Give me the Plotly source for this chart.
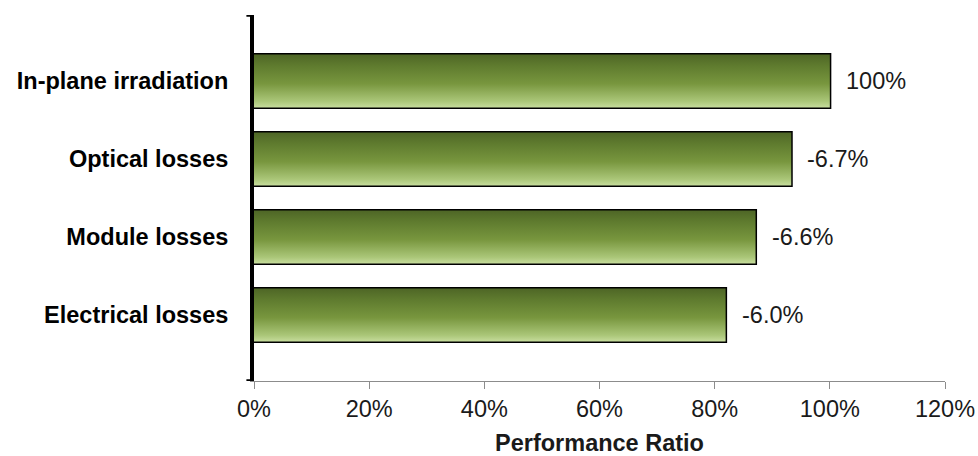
import plotly.graph_objects as go

# Performance ratio loss chain
categories = ["In-plane irradiation", "Optical losses", "Module losses", "Electrical losses"]
pr_values = [100.0, 93.3, 87.1, 81.9]
value_labels = ["100%", "-6.7%", "-6.6%", "-6.0%"]
x_ticks = [0, 20, 40, 60, 80, 100, 120]

FONT = "Arial, Liberation Sans, sans-serif"
FS = 23.5
BAR_W = 0.68
# vertical shading of each bar: dark olive on top, pale green at the bottom
GRAD = [[0.0, "rgb(198,220,156)"], [0.12, "rgb(170,198,120)"], [0.45, "rgb(120,150,62)"],
        [0.8, "rgb(94,122,46)"], [1.0, "rgb(78,102,38)"]]

n = len(categories)
ypos = [n - 1 - i for i in range(n)]  # first category on top

fig = go.Figure()

for y, v in zip(ypos, pr_values):
    y0, y1 = y - BAR_W / 2, y + BAR_W / 2
    fig.add_trace(go.Scatter(
        x=[0, v, v, 0, 0], y=[y0, y0, y1, y1, y0],
        mode="lines", fill="toself",
        fillgradient=dict(type="vertical", colorscale=GRAD, start=y0, stop=y1),
        line=dict(width=0), hoverinfo="skip", showlegend=False,
    ))

fig.add_trace(go.Bar(
    x=pr_values, y=ypos, orientation="h", width=BAR_W,
    marker=dict(color="rgba(0,0,0,0)", line=dict(color="#000000", width=3)),
    showlegend=False, hoverinfo="x",
))

for y, v, t in zip(ypos, pr_values, value_labels):
    fig.add_annotation(x=v, y=y, text=t, showarrow=False, xanchor="left", xshift=14,
                       font=dict(family=FONT, size=FS, color="#1a1a1a"))

ylo, yhi = -0.846, n - 1 + 0.846

# end ticks of the category axis
for yy in (ylo, yhi):
    fig.add_shape(type="line", xref="paper", yref="y", x0=-0.011, x1=-0.002, y0=yy, y1=yy,
                  line=dict(color="#000000", width=3.5))

fig.update_layout(
    width=978, height=456,
    margin=dict(l=254, r=33, t=15, b=75),
    plot_bgcolor="white", paper_bgcolor="white",
    font=dict(family=FONT, size=FS, color="#1a1a1a"),
    xaxis=dict(
        range=[0, 120], tickvals=x_ticks, ticktext=[f"{t}%" for t in x_ticks],
        showgrid=False, zeroline=False, showline=True, linecolor="#8c8c8c", linewidth=1.2,
        ticks="outside", ticklen=7, tickcolor="#8c8c8c", tickwidth=1.2, automargin=False,
        tickfont=dict(family=FONT, size=FS, color="#1a1a1a"),
        title=dict(text="<b>Performance Ratio</b>", standoff=14,
                   font=dict(family=FONT, size=FS, color="#1a1a1a")),
    ),
    yaxis=dict(
        range=[ylo, yhi], tickvals=ypos, ticktext=[f"<b>{c}</b>" for c in categories],
        showgrid=False, zeroline=False, showline=True, linecolor="#000000", linewidth=4,
        ticks="", ticklabelstandoff=17, automargin=False,
        tickfont=dict(family=FONT, size=FS, color="#000000"),
    ),
)

fig.write_html("out.html")
